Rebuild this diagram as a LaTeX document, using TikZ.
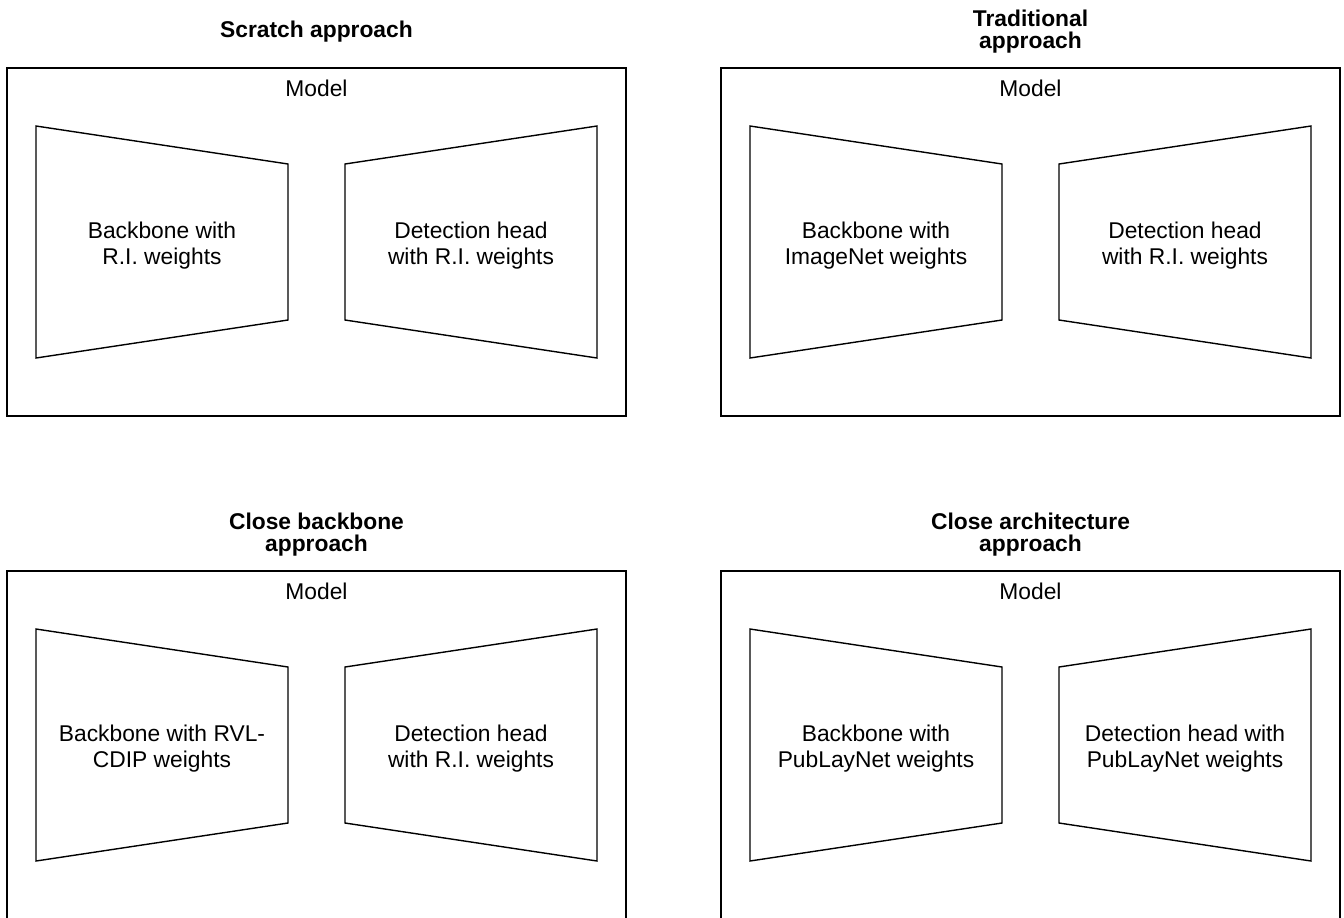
\documentclass[tikz,border=0pt]{standalone}
\usepackage{fontspec}
\setmainfont{Liberation Sans}
\usetikzlibrary{positioning}
\tikzset{
  frame/.style={draw=black,line width=0.7pt},
  lbl/.style={align=center,font=\fontsize{11.4}{12.6}\selectfont,inner sep=0pt},
  ttl/.style={lbl,font=\fontsize{11.4}{11}\selectfont\bfseries}
}
\newcommand{\panel}[5]{\begin{scope}[shift={#1}]
  \draw[frame] (7,68) rectangle (626,416);
  \node[ttl] (#2-title) at (316.5,31.5) {#3};
  \node[lbl] (#2-model) at (316.5,88) {Model};
  \draw[frame] (36,126)--(288,164)--(288,320)--(36,358)--cycle;
  \draw[frame] (345,164)--(597,126)--(597,358)--(345,320)--cycle;
  \node[lbl] (#2-back) at (162,245.5) {#4};
  \node[lbl] (#2-head) at (471,245.5) {#5};\end{scope}}

\begin{document}
\begin{tikzpicture}[x=0.5pt,y=-0.5pt]
\useasboundingbox (0,0) rectangle (1344,917);
\panel{(0,0)}{scratch}{Scratch approach}{Backbone with\\R.I. weights}{Detection head\\with R.I. weights}
\panel{(714,0)}{trad}{Traditional\\approach}{Backbone with\\ImageNet weights}{Detection head\\with R.I. weights}
\panel{(0,503)}{cbb}{Close backbone\\approach}{Backbone with RVL-\\CDIP weights}{Detection head\\with R.I. weights}
\panel{(714,503)}{carch}{Close architecture\\approach}{Backbone with\\PubLayNet weights}{Detection head with\\PubLayNet weights}
\end{tikzpicture}
\end{document}
